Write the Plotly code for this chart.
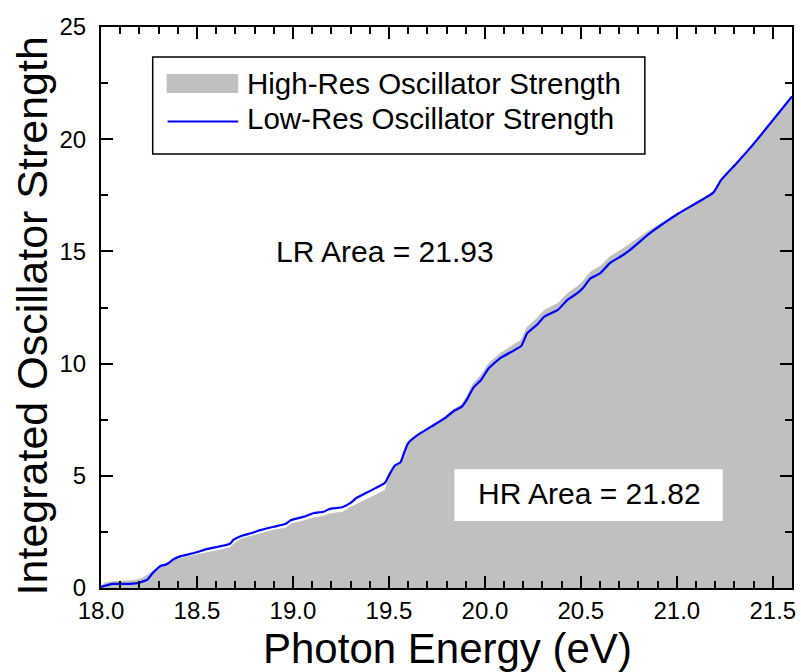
import plotly.graph_objects as go

# High-resolution integrated oscillator strength (grey filled area)
hr_energy = [18.00, 18.02, 18.06, 18.12, 18.18, 18.22, 18.25, 18.28, 18.31, 18.34,
             18.38, 18.42, 18.49, 18.55, 18.61, 18.67, 18.69, 18.73, 18.78, 18.83,
             18.90, 18.96, 18.99, 19.05, 19.11, 19.16, 19.19, 19.26, 19.29, 19.33,
             19.38, 19.43, 19.48, 19.50, 19.53, 19.56, 19.58, 19.60, 19.65, 19.72,
             19.79, 19.84, 19.88, 19.91, 19.94, 19.98, 20.02, 20.08, 20.15, 20.19,
             20.22, 20.27, 20.31, 20.38, 20.43, 20.48, 20.51, 20.55, 20.60, 20.65,
             20.72, 20.76, 20.86, 20.93, 21.01, 21.19, 21.23, 21.31, 21.38, 21.48,
             21.60]
hr_strength = [0.10, 0.22, 0.28, 0.30, 0.33, 0.45, 0.62, 0.80, 1.00, 1.08,
               1.22, 1.33, 1.45, 1.58, 1.68, 1.78, 1.95, 2.18, 2.30, 2.43,
               2.58, 2.66, 2.85, 2.98, 3.12, 3.20, 3.30, 3.38, 3.55, 3.72,
               3.93, 4.12, 4.35, 4.95, 5.40, 5.58, 6.05, 6.45, 6.85, 7.22,
               7.62, 7.98, 8.18, 8.60, 9.12, 9.48, 10.00, 10.45, 10.82, 11.05,
               11.62, 12.00, 12.38, 12.68, 13.12, 13.42, 13.65, 14.08, 14.32, 14.75,
               15.12, 15.35, 15.95, 16.30, 16.72, 17.62, 18.18, 18.92, 19.59, 20.63,
               21.82]

# Low-resolution integrated oscillator strength (blue line)
lr_energy = [18.00, 18.03, 18.06, 18.12, 18.19, 18.24, 18.27, 18.31, 18.34, 18.38,
             18.42, 18.49, 18.55, 18.61, 18.67, 18.69, 18.73, 18.78, 18.83, 18.90,
             18.96, 18.99, 19.05, 19.11, 19.16, 19.19, 19.26, 19.30, 19.33, 19.38,
             19.43, 19.48, 19.50, 19.53, 19.56, 19.58, 19.60, 19.65, 19.72, 19.79,
             19.84, 19.88, 19.91, 19.94, 19.98, 20.02, 20.08, 20.15, 20.19, 20.22,
             20.27, 20.31, 20.38, 20.43, 20.48, 20.51, 20.55, 20.60, 20.65, 20.72,
             20.76, 20.86, 21.01, 21.19, 21.23, 21.31, 21.38, 21.48, 21.60]
lr_strength = [0.05, 0.12, 0.18, 0.18, 0.22, 0.36, 0.67, 0.98, 1.05, 1.29,
               1.43, 1.57, 1.73, 1.84, 1.96, 2.14, 2.32, 2.44, 2.58, 2.73,
               2.85, 3.03, 3.16, 3.34, 3.40, 3.52, 3.61, 3.79, 4.01, 4.23,
               4.45, 4.69, 5.02, 5.45, 5.60, 6.05, 6.45, 6.82, 7.19, 7.56,
               7.90, 8.08, 8.45, 8.93, 9.27, 9.79, 10.24, 10.58, 10.79, 11.35,
               11.72, 12.09, 12.39, 12.84, 13.13, 13.36, 13.80, 14.02, 14.47, 14.84,
               15.09, 15.81, 16.70, 17.62, 18.18, 18.92, 19.59, 20.63, 21.90]

legend_labels = ["High-Res Oscillator Strength", "Low-Res Oscillator Strength"]
lr_area_text = "LR Area = 21.93"
hr_area_text = "HR Area = 21.82"
x_title = "Photon Energy (eV)"
y_title = "Integrated Oscillator Strength"

GREY = "#C0C0C0"
BLUE = "#0000FF"
FONT = "Liberation Sans, Arial, Helvetica, sans-serif"

fig = go.Figure()
fig.add_trace(go.Scatter(x=hr_energy, y=hr_strength, mode="lines", fill="tozeroy",
                         fillcolor=GREY, line=dict(color=GREY, width=1),
                         name=legend_labels[0], showlegend=False))
fig.add_trace(go.Scatter(x=lr_energy, y=lr_strength, mode="lines",
                         line=dict(color=BLUE, width=2.2, shape="spline", smoothing=0.4),
                         name=legend_labels[1], showlegend=False))

axis_common = dict(showline=True, linecolor="black", linewidth=2, mirror="ticks",
                   ticks="inside", tickcolor="black", tickwidth=2, ticklen=12,
                   showgrid=False, zeroline=False,
                   tickfont=dict(family=FONT, size=24, color="black"))

fig.update_xaxes(range=[18, 21.6], dtick=0.5, tick0=18, tickformat=".1f",
                 minor=dict(dtick=0.1, ticks="inside", ticklen=7, tickwidth=2, tickcolor="black"),
                 ticklabelstandoff=0,
                 **axis_common)
fig.update_yaxes(range=[0, 25], dtick=5, tick0=0,
                 minor=dict(dtick=2.5, ticks="inside", ticklen=7, tickwidth=2, tickcolor="black"),
                 ticklabelstandoff=8,
                 **axis_common)

def px(xp):
    return (xp - 101) / 695.0

def py(yp):
    return (588 - yp) / 561.0

shapes = [
    # legend frame
    dict(type="rect", xref="paper", yref="paper", x0=px(153), x1=px(648), y0=py(154), y1=py(57),
         line=dict(color="black", width=1.5), fillcolor="white", layer="above"),
    dict(type="rect", xref="paper", yref="paper", x0=px(167), x1=px(239), y0=py(93), y1=py(74),
         line=dict(width=0), fillcolor=GREY, layer="above"),
    dict(type="line", xref="paper", yref="paper", x0=px(168), x1=px(239), y0=py(121.5), y1=py(121.5),
         line=dict(color=BLUE, width=2), layer="above"),
    # HR area box
    dict(type="rect", xref="x", yref="y", x0=19.841, x1=21.239, y0=2.99, y1=5.29,
         line=dict(width=0), fillcolor="white", layer="above"),
]

annotations = [
    dict(text=x_title, xref="paper", yref="paper", x=px(450), y=py(648),
         xanchor="center", yanchor="middle", showarrow=False,
         font=dict(family=FONT, size=42, color="black")),
    dict(text=y_title, xref="paper", yref="paper", x=px(32), y=py(316),
         xanchor="center", yanchor="middle", textangle=-90, showarrow=False,
         font=dict(family=FONT, size=43, color="black")),
    dict(text=legend_labels[0], xref="paper", yref="paper", x=px(246), y=py(84),
         xanchor="left", yanchor="middle", showarrow=False,
         font=dict(family=FONT, size=29.5, color="black")),
    dict(text=legend_labels[1], xref="paper", yref="paper", x=px(246), y=py(118),
         xanchor="left", yanchor="middle", showarrow=False,
         font=dict(family=FONT, size=29.5, color="black")),
    dict(text=lr_area_text, xref="x", yref="y", x=19.48, y=15.0,
         xanchor="center", yanchor="middle", showarrow=False,
         font=dict(family=FONT, size=30, color="black")),
    dict(text=hr_area_text, xref="x", yref="y", x=20.546, y=4.2,
         xanchor="center", yanchor="middle", showarrow=False,
         font=dict(family=FONT, size=30, color="black")),
]

fig.update_layout(width=801, height=672, margin=dict(l=101, r=5, t=27, b=84),
                  paper_bgcolor="white", plot_bgcolor="white",
                  shapes=shapes, annotations=annotations, showlegend=False)

fig.write_html("out.html")
